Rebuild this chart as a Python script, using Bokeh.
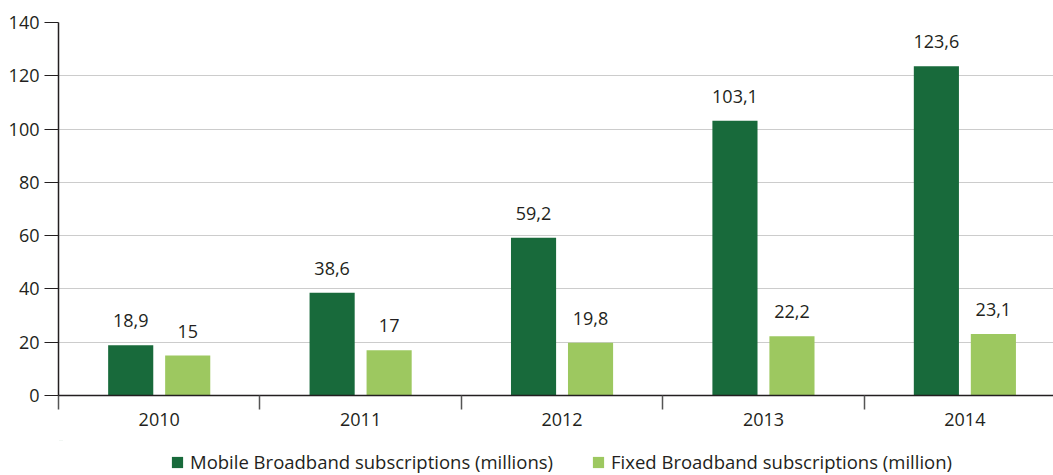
from bokeh.plotting import figure
from bokeh.layouts import column
from bokeh.models import Range1d, FixedTicker, Legend, LegendItem, CustomJSTickFormatter
from bokeh.core.properties import value
from bokeh.embed import file_html
from bokeh.resources import INLINE

years = ["2010", "2011", "2012", "2013", "2014"]
mobile = [18.9, 38.6, 59.2, 103.1, 123.6]
fixed = [15, 17, 19.8, 22.2, 23.1]
mobile_labels = ["18,9", "38,6", "59,2", "103,1", "123,6"]
fixed_labels = ["15", "17", "19,8", "22,2", "23,1"]
y_ticks = [0, 20, 40, 60, 80, 100, 120, 140]
series_names = ["Mobile Broadband subscriptions (millions)",
                "Fixed Broadband subscriptions (million)"]

DARK = "#186a3b"
LIGHT = "#9dc860"
TXT = "#231f20"
FONT = "Open Sans"
FS = "18px"

idx = list(range(len(years)))
x_mob = [i + 0.5 - 0.1415 for i in idx]
x_fix = [i + 0.5 + 0.1415 for i in idx]

p = figure(width=1053, height=440, x_range=Range1d(0, 4.94), y_range=Range1d(0, 140),
           output_backend="svg", toolbar_location=None,
           min_border_left=58, min_border_right=0, min_border_top=22, min_border_bottom=45)
p.outline_line_color = None
p.background_fill_color = "white"

r_mob = p.vbar(x=x_mob, top=mobile, width=0.224, fill_color=DARK, line_color=None)
r_fix = p.vbar(x=x_fix, top=fixed, width=0.224, fill_color=LIGHT, line_color=None)

p.text(x=x_mob, y=mobile, text=mobile_labels, text_align="center", text_baseline="bottom",
       y_offset=-18, text_font=value(FONT), text_font_size=FS, text_color=TXT)
p.text(x=x_fix, y=fixed, text=fixed_labels, text_align="center", text_baseline="bottom",
       y_offset=-18, text_font=value(FONT), text_font_size=FS, text_color=TXT)

# x axis
xa = p.xaxis[0]
xa.ticker = FixedTicker(ticks=[i + 0.5 for i in idx], minor_ticks=[float(i) for i in range(len(years) + 1)])
xa.formatter = CustomJSTickFormatter(args=dict(labels=years), code="return labels[Math.floor(tick)];")
xa.major_tick_out = 0
xa.major_tick_in = 0
xa.minor_tick_out = 14
xa.minor_tick_in = 0
xa.minor_tick_line_color = "#555555"
xa.minor_tick_line_width = 1.5
xa.axis_line_color = TXT
xa.axis_line_width = 1.5
xa.major_label_standoff = 3
xa.major_label_text_font = FONT
xa.major_label_text_font_size = FS
xa.major_label_text_color = TXT

# y axis
ya = p.yaxis[0]
ya.ticker = FixedTicker(ticks=y_ticks)
ya.major_tick_out = 14
ya.major_tick_in = 0
ya.minor_tick_out = 0
ya.minor_tick_in = 0
ya.major_tick_line_color = TXT
ya.major_tick_line_width = 1.2
ya.axis_line_color = TXT
ya.axis_line_width = 1.5
ya.major_label_standoff = 5
ya.major_label_text_font = FONT
ya.major_label_text_font_size = FS
ya.major_label_text_color = TXT

p.xgrid.visible = False
p.ygrid.ticker = FixedTicker(ticks=y_ticks)
p.ygrid.grid_line_color = "#cccccc"
p.ygrid.grid_line_width = 1

# legend strip below the chart (zero-height bars only serve as legend sources)
lg = figure(width=1053, height=35, x_range=Range1d(0, 1053), y_range=Range1d(0, 35),
            x_axis_type=None, y_axis_type=None, output_backend="svg", toolbar_location=None,
            min_border_left=0, min_border_right=0, min_border_top=0, min_border_bottom=0)
lg.outline_line_color = None
lg.xgrid.visible = False
lg.ygrid.visible = False
k_mob = lg.vbar(x=x_mob, top=mobile, bottom=mobile, width=0.224, fill_color=DARK, line_color=None)
k_fix = lg.vbar(x=x_fix, top=fixed, bottom=fixed, width=0.224, fill_color=LIGHT, line_color=None)

legend = Legend(items=[LegendItem(label=series_names[0], renderers=[k_mob]),
                       LegendItem(label=series_names[1], renderers=[k_fix])],
                orientation="horizontal", location=(112, 1),
                glyph_width=14, glyph_height=14, label_standoff=6, spacing=38,
                padding=0, margin=0, label_height=20, label_text_line_height=1.0,
                label_text_font=FONT, label_text_font_size="18.5px", label_text_color=TXT,
                border_line_color=None, background_fill_alpha=0)
lg.add_layout(legend, "center")

layout = column(p, lg, spacing=0)
open("out.html", "w").write(file_html(layout, INLINE))
